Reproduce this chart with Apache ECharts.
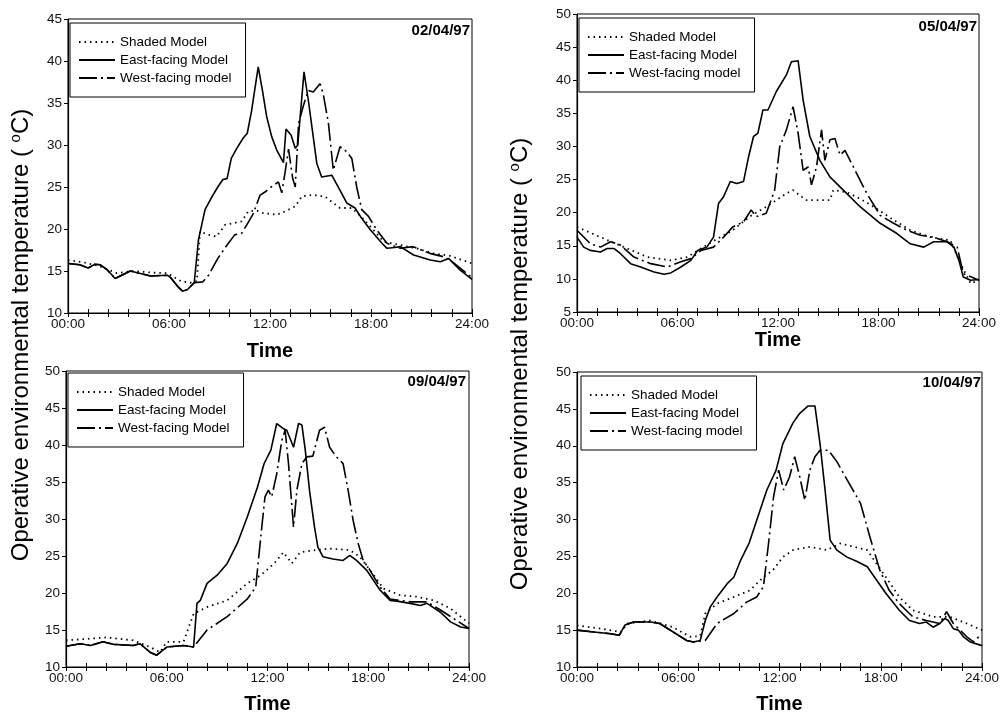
<!DOCTYPE html>
<html><head><meta charset="utf-8">
<script src="https://cdn.jsdelivr.net/npm/echarts@6/dist/echarts.min.js"></script>
<style>html,body{margin:0;padding:0;background:#fff}#c{width:1003px;height:720px}</style>
</head><body><div id="c"></div>
<script>
// ---------- DATA (hours, °C) ----------
const hourLabels = ['00:00','06:00','12:00','18:00','24:00'];
const dates = ['02/04/97','05/04/97','09/04/97','10/04/97'];
const shadedName = 'Shaded Model';
const eastName = 'East-facing Model';
const westNames = ['West-facing model','West-facing model','West-facing Model','West-facing model'];

// Panel 1 : 02/04/97
const p1ShadeT = [0,1.0,1.9,2.9,3.9,5.0,5.9,6.7,7.27,7.66,7.84,8.34,8.83,9.33,9.82,10.32,10.71,11.2,11.6,12.4,12.9,13.5,13.9,14.57,15.27,15.76,16.16,16.86,17.4,17.96,18.75,19.7,20.7,21.7,22.7,24];
const p1ShadeV = [16.3,16.0,15.55,14.75,15.0,14.8,14.75,13.8,13.6,13.8,19.7,19.3,19.1,20.5,20.7,20.9,22.1,22.2,21.9,21.7,22.1,22.7,23.9,24.05,23.85,23.1,22.5,22.5,21.5,20.3,18.5,18.1,17.7,17.1,16.8,15.9];
const p1EastT = [0,0.7,1.2,1.6,1.9,2.3,2.8,3.1,3.7,4.3,4.9,5.9,6.1,6.5,6.8,7.1,7.5,7.6,7.75,8.14,8.54,8.9,9.2,9.45,9.7,10.0,10.4,10.65,10.9,11.3,11.55,11.8,12.1,12.4,12.8,12.95,13.25,13.5,13.65,14.02,14.3,14.5,14.78,15.07,15.67,16.16,16.56,17.05,17.37,17.96,18.65,18.95,19.4,19.74,20.53,21.52,22.12,22.61,23.3,24];
const p1EastV = [15.9,15.75,15.35,15.8,15.75,15.2,14.1,14.4,15.0,14.7,14.4,14.5,14.2,13.2,12.6,12.8,13.6,13.8,18.7,22.3,23.8,25.0,25.9,26.0,28.4,29.5,30.8,31.4,34.0,39.3,36.5,33.4,31.0,29.4,27.9,31.9,31.2,29.6,30.0,38.7,35.0,32.0,27.8,26.2,26.4,24.6,23.1,22.5,21.5,19.9,18.3,17.7,17.8,17.9,16.9,16.3,16.1,16.5,15.1,14.0];
const p1WestT = [0,0.7,1.2,1.6,1.9,2.3,2.8,3.1,3.7,4.3,4.9,5.9,6.1,6.5,6.8,7.1,7.5,8.0,8.35,8.9,9.45,9.9,10.32,10.62,11.0,11.4,11.7,12.0,12.5,12.7,12.9,13.1,13.35,13.5,13.7,14.0,14.28,14.57,14.97,15.17,15.47,15.76,16.16,16.56,16.86,17.15,17.45,17.85,18.34,18.95,19.74,20.5,21.5,22.3,22.7,24];
const p1WestV = [15.9,15.75,15.35,15.8,15.75,15.2,14.1,14.4,15.0,14.7,14.4,14.5,14.2,13.2,12.6,12.8,13.6,13.7,14.5,16.5,18.1,19.3,19.5,20.5,21.8,24.0,24.4,24.9,25.6,24.3,26.8,29.5,26.0,25.0,32.6,34.8,36.5,36.3,37.3,36.0,32.6,27.0,29.8,29.2,28.4,25.0,22.3,21.5,19.9,18.3,17.7,17.9,17.1,16.7,16.3,14.2];

// Panel 2 : 05/04/97
const p2ShadeT = [0,1.4,2.8,4.2,5.6,6.6,7.2,8.2,9.3,10.3,11.3,11.9,12.5,12.9,13.3,13.7,14.5,15.1,15.3,16.1,16.9,17.7,18.9,19.9,21.1,22.3,22.9,23.5,24];
const p2ShadeV = [17.85,16.3,14.8,13.3,12.8,13.3,14.3,15.8,17.35,19.4,20.9,21.9,22.9,23.4,22.6,21.9,21.9,21.9,23.4,23.1,22.1,20.9,18.9,17.35,16.3,15.8,12.3,9.3,9.8];
const p2EastT = [0,0.4,0.8,1.4,1.8,2.2,2.6,3.2,3.8,4.6,5.2,5.6,6.2,6.8,7.2,7.75,8.15,8.45,8.75,9.15,9.54,9.94,10.24,10.54,10.8,11.1,11.4,11.9,12.5,12.8,13.2,13.5,13.9,14.5,15.1,15.9,16.9,18.1,19.1,19.9,20.7,21.3,22.1,22.5,22.8,23.06,23.5,24];
const p2EastV = [16.3,14.8,14.3,14.07,14.6,14.6,13.8,12.3,11.8,11.05,10.7,10.9,11.8,12.8,14.3,14.8,16.3,21.4,22.4,24.7,24.4,24.7,28.4,31.5,32.0,35.5,35.5,38.3,40.8,42.8,42.95,37.0,31.5,27.9,25.4,23.4,20.9,18.4,16.85,15.3,14.8,15.6,15.6,14.8,12.8,10.3,9.8,9.9];
const p2WestT = [0,0.8,1.4,2.0,2.6,3.4,4.4,5.4,6.2,6.8,7.4,8.15,8.75,9.3,9.94,10.4,10.7,11.3,11.8,12.1,12.5,12.9,13.2,13.5,13.8,14.0,14.3,14.6,14.8,15.1,15.4,15.7,16.0,16.5,17.1,17.3,18.1,18.9,19.7,20.5,21.3,22.1,22.7,23.06,24];
const p2WestV = [17.35,15.3,14.8,15.6,15.1,13.3,12.3,11.8,12.6,13.06,14.3,14.8,16.3,17.85,18.6,20.4,19.4,19.9,23.4,29.9,32.5,36.0,32.0,26.4,26.9,24.2,26.9,32.5,27.9,31.0,31.2,28.7,29.4,26.9,23.9,22.9,19.6,18.4,17.35,16.6,16.3,15.6,14.8,10.8,9.8];

// Panel 3 : 09/04/97
const p3ShadeT = [0,1.25,2.4,4.0,5.0,5.6,6.0,7.0,7.6,8.4,9.6,10.8,11.6,12.4,12.95,13.45,13.95,14.9,15.7,16.9,17.5,18.1,18.9,19.9,20.9,21.9,22.9,24];
const p3ShadeV = [13.6,13.8,14.0,13.6,12.7,12.0,13.4,13.4,17.2,18.1,19.0,21.3,22.4,24.0,25.5,24.0,25.5,25.8,26.0,25.8,24.9,23.1,20.6,19.7,19.5,19.0,17.9,15.9];
const p3EastT = [0,0.85,1.45,2.2,2.85,4.0,4.4,5.0,5.4,6.0,7.0,7.6,7.8,8.0,8.4,9.0,9.6,10.2,10.8,11.4,11.8,12.2,12.55,12.95,13.15,13.55,13.85,14.05,14.25,14.5,14.8,15.0,15.3,15.9,16.5,16.9,17.3,17.9,18.7,19.3,19.7,20.5,21.1,21.5,22.3,22.9,23.5,24];
const p3EastV = [12.8,13.15,12.9,13.4,13.06,12.9,13.15,12.0,11.6,12.7,12.9,12.7,18.6,19.0,21.3,22.4,24.0,26.7,30.3,34.3,37.5,39.3,42.9,42.2,42.0,39.7,42.9,42.7,39.3,33.9,28.9,26.2,24.9,24.6,24.4,25.1,24.4,23.1,20.4,19.0,18.9,18.6,18.3,18.6,17.4,16.1,15.4,15.2];
const p3WestT = [0,0.85,1.45,2.2,2.85,4.0,4.4,5.0,5.4,6.0,7.0,7.6,8.4,9.6,10.8,11.3,11.6,11.85,12.05,12.25,12.55,12.85,13.05,13.25,13.55,13.75,14.05,14.35,14.7,15.1,15.4,15.7,16.1,16.5,16.8,17.1,17.4,17.7,18.1,18.7,19.3,20.5,21.5,22.3,24];
const p3WestV = [12.8,13.15,12.9,13.4,13.06,12.9,13.15,12.0,11.6,12.7,12.9,12.7,15.0,16.8,19.2,20.8,27.6,33.0,33.9,33.0,36.1,40.6,42.0,37.5,28.9,33.9,37.5,38.4,38.5,42.0,42.4,39.7,38.4,37.5,33.9,29.8,26.7,24.4,23.1,20.8,19.2,18.8,18.8,17.7,15.2];

// Panel 4 : 10/04/97
const p4ShadeT = [0,1.4,2.6,3.0,4.35,5.7,6.7,7.3,7.6,8.3,9.3,10.25,11.05,11.6,12.2,12.8,13.8,14.8,15.6,16.4,17.2,17.75,18.3,19.1,19.9,21.1,22.1,23.1,24];
const p4ShadeV = [15.65,15.2,14.75,15.9,16.3,15.4,14.1,14.2,17.25,18.6,19.5,20.4,22.2,23.1,24.9,25.85,26.3,25.85,26.75,26.3,25.85,24.0,22.2,19.5,17.7,16.8,16.8,15.9,15.0];
const p4EastT = [0,1.0,2.0,2.5,2.85,3.35,4.35,4.9,5.7,6.5,6.9,7.3,7.6,7.9,8.3,8.9,9.3,9.7,10.2,10.65,11.25,11.8,12.2,12.8,13.2,13.7,14.1,14.4,14.7,15.0,15.4,16.0,16.6,17.2,17.75,18.3,19.1,19.7,20.3,20.7,21.1,21.5,21.8,22.0,22.3,22.6,22.9,23.3,24];
const p4EastV = [15.0,14.75,14.5,14.3,15.7,16.1,16.1,15.9,14.75,13.6,13.4,13.6,16.3,18.15,19.5,21.3,22.2,24.5,26.8,29.9,34.0,36.7,40.3,43.1,44.4,45.4,45.4,40.3,34.0,27.2,25.85,24.9,24.3,23.6,21.8,20.0,17.7,16.3,15.9,16.1,15.4,15.9,16.6,16.3,15.2,15.0,14.1,13.4,12.9];
const p4WestT = [0,1.0,2.0,2.5,2.85,3.35,4.35,4.9,5.7,6.5,6.9,7.6,8.3,9.3,10.05,10.65,11.05,11.35,11.65,11.95,12.25,12.6,12.9,13.2,13.5,13.8,14.1,14.4,14.9,15.4,16.0,16.8,17.35,17.95,18.5,19.1,19.5,19.9,20.7,21.5,21.9,22.3,23.1,23.5,23.9];
const p4WestV = [15.0,14.75,14.5,14.3,15.7,16.1,16.1,15.9,14.75,13.6,13.4,13.6,15.9,17.25,18.8,19.5,20.9,26.75,33.1,36.7,34.0,35.8,38.5,35.8,32.6,36.7,38.5,39.4,39.4,37.85,35.4,32.2,27.7,23.1,20.4,18.6,17.7,16.8,16.3,15.9,17.5,15.9,14.1,13.4,14.3];

const yMin = [10,5,10,10];
const yMax = [45,50,50,50];

// ---------- LAYOUT ----------
const FONT = '"Liberation Sans", Arial, sans-serif';
const grids = [
  {left:68, top:19, width:404, height:294},
  {left:577, top:14, width:402, height:298},
  {left:66, top:371, width:403, height:296},
  {left:577, top:372, width:405, height:295}
];
const nameGaps = [28, 18, 27, 27];
const legendPos = [[70,23],[579,18],[68,373],[581,376]];
const datePos = [[470,31],[977,27],[466,382],[981,383]];

const panels = [
  [p1ShadeT,p1ShadeV,p1EastT,p1EastV,p1WestT,p1WestV],
  [p2ShadeT,p2ShadeV,p2EastT,p2EastV,p2WestT,p2WestV],
  [p3ShadeT,p3ShadeV,p3EastT,p3EastV,p3WestT,p3WestV],
  [p4ShadeT,p4ShadeV,p4EastT,p4EastV,p4WestT,p4WestV]
];
const zip = (t,v) => t.map((x,i)=>[x,v[i]]);

const xAxis = [], yAxis = [], series = [], legend = [], graphic = [];
grids.forEach((g,i)=>{
  g.show = true; g.borderColor = '#000'; g.borderWidth = 1;
  const base = {
    type:'value', gridIndex:i, position:'bottom', min:0, max:24, interval:6,
    splitLine:{show:false},
    minorSplitLine:{show:false}
  };
  xAxis.push(Object.assign({}, base, {
    axisLine:{show:true, lineStyle:{color:'#000', width:1.2}},
    axisTick:{show:true, length:4, lineStyle:{color:'#000', width:1}},
    minorTick:{show:true, splitNumber:5, length:4, lineStyle:{color:'#000', width:1}},
    axisLabel:{color:'#111', fontSize:13.5, fontFamily:FONT, margin:4,
      formatter:v=>hourLabels[Math.round(v/6)]},
    name:'Time', nameLocation:'middle', nameGap:nameGaps[i],
    nameTextStyle:{fontSize:20, fontWeight:'bold', color:'#000', fontFamily:FONT}
  }));
  xAxis.push(Object.assign({}, base, {
    axisLine:{show:false},
    axisTick:{show:true, inside:true, length:4, lineStyle:{color:'#000', width:1}},
    minorTick:{show:true, splitNumber:5, length:4, lineStyle:{color:'#000', width:1}},
    axisLabel:{show:false}
  }));
  yAxis.push({
    type:'value', gridIndex:i, min:yMin[i], max:yMax[i], interval:5,
    splitLine:{show:false},
    axisLine:{show:true, lineStyle:{color:'#000', width:1.2}},
    axisTick:{show:true, length:4, lineStyle:{color:'#000'}},
    axisLabel:{color:'#111', fontSize:13.5, fontFamily:FONT, margin:6}
  });
  const d = panels[i];
  const common = {type:'line', xAxisIndex:2*i, yAxisIndex:i, symbol:'none', showSymbol:false,
    animation:false, silent:true, itemStyle:{color:'#000'}};
  series.push(Object.assign({}, common, {name:shadedName, data:zip(d[0],d[1]),
    lineStyle:{color:'#000', width:1.8, type:[1.5,4]}}));
  series.push(Object.assign({}, common, {name:eastName, data:zip(d[2],d[3]),
    lineStyle:{color:'#000', width:1.6, type:'solid'}}));
  series.push(Object.assign({}, common, {name:westNames[i], data:zip(d[4],d[5]),
    lineStyle:{color:'#000', width:1.6, type:[18,4,2,4]}}));
  legend.push({
    orient:'vertical', left:legendPos[i][0], top:legendPos[i][1],
    data:[shadedName, eastName, westNames[i]],
    itemWidth:36, itemHeight:14, itemGap:4,
    padding:[12,14,12,8],
    borderColor:'#000', borderWidth:1, backgroundColor:'#fff',
    selectedMode:false,
    itemStyle:{color:'rgba(0,0,0,0)', borderWidth:0, opacity:0},
    textStyle:{fontSize:13.5, color:'#000', fontFamily:FONT}
  });
  graphic.push({type:'text', x:datePos[i][0], y:datePos[i][1],
    style:{text:dates[i], fill:'#000', font:'bold 15px '+FONT, textAlign:'right', textVerticalAlign:'middle'}});
});

const yTitle = 'Operative environmental temperature ( {s|o}C)';
[[21,335],[520,364]].forEach(p=>{
  graphic.push({type:'text', x:p[0], y:p[1], rotation:Math.PI/2,
    style:{text:yTitle, fill:'#000', font:'24px '+FONT, textAlign:'center', textVerticalAlign:'middle',
      rich:{s:{fontSize:15, fontFamily:FONT, verticalAlign:'top', padding:[0,0,11,0]}}}});
});

const chart = echarts.init(document.getElementById('c'), null, {renderer:'canvas'});
chart.setOption({
  animation:false,
  backgroundColor:'#fff',
  grid:grids, xAxis, yAxis, series, legend, graphic
});
</script>
</body></html>
